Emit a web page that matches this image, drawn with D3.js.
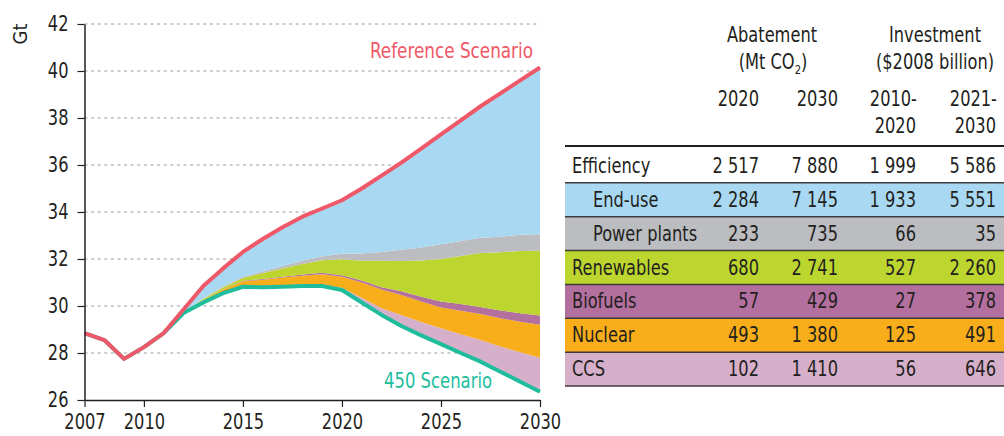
<!DOCTYPE html>
<html>
<head>
<meta charset="utf-8">
<script src="https://cdn.jsdelivr.net/npm/d3@7"></script>
<style>
  body { margin: 0; background: #fff; }
  svg { display: block; }
</style>
</head>
<body>
<div id="chart"></div>
<script>
// CO2 emissions, Reference vs 450 Scenario (Gt)
const years = [2007, 2008, 2009, 2010, 2011, 2012, 2013, 2014, 2015, 2016, 2017, 2018,
               2019, 2020, 2021, 2022, 2023, 2024, 2025, 2026, 2027, 2028, 2029, 2030]

const referenceScenario = [28.85, 28.55, 27.75, 28.25, 28.85, 29.85, 30.85, 31.6, 32.3, 32.85, 33.35, 33.8,
                           34.15, 34.5, 35.0, 35.55, 36.1, 36.7, 37.3, 37.9, 38.5, 39.05, 39.6, 40.15]
const scenario450 = [28.85, 28.55, 27.75, 28.25, 28.85, 29.7, 30.15, 30.55, 30.82, 30.8, 30.82, 30.85,
                     30.85, 30.68, 30.15, 29.62, 29.15, 28.75, 28.38, 28.0, 27.63, 27.2, 26.78, 26.35]

// abatement wedges (Gt), stacked upward from the 450 Scenario line
const ccs = [0, 0, 0, 0, 0, 0, 0.01, 0.02, 0.03, 0.04, 0.05, 0.06,
             0.08, 0.1, 0.2, 0.28, 0.47, 0.57, 0.67, 0.8, 0.92, 1.08, 1.25, 1.45]
const nuclear = [0, 0, 0, 0, 0, 0.02, 0.07, 0.13, 0.2, 0.28, 0.34, 0.38,
                 0.42, 0.47, 0.65, 0.8, 0.85, 0.87, 0.89, 1.0, 1.11, 1.2, 1.3, 1.4]
const biofuels = [0, 0, 0, 0, 0, 0, 0.01, 0.01, 0.02, 0.03, 0.04, 0.05,
                  0.06, 0.06, 0.08, 0.1, 0.16, 0.2, 0.25, 0.28, 0.3, 0.33, 0.36, 0.4]
const renewables = [0, 0, 0, 0, 0, 0.03, 0.06, 0.09, 0.12, 0.25, 0.35, 0.45,
                    0.54, 0.68, 0.85, 1.13, 1.28, 1.55, 1.81, 2.05, 2.3, 2.48, 2.65, 2.75]
const powerPlants = [0, 0, 0, 0, 0, 0.01, 0.02, 0.03, 0.05, 0.08, 0.1, 0.14,
                     0.17, 0.23, 0.3, 0.37, 0.48, 0.55, 0.63, 0.64, 0.64, 0.66, 0.69, 0.7]
const endUse = [0, 0, 0, 0, 0, 0.14, 0.53, 0.77, 1.06, 1.37, 1.65, 1.87,
                2.03, 2.28, 2.77, 3.25, 3.71, 4.21, 4.67, 5.13, 5.6, 6.1, 6.57, 7.1]

const yTicks = [26, 28, 30, 32, 34, 36, 38, 40, 42]
const xTicks = [2007, 2010, 2015, 2020, 2025, 2030]

// table
const rowLabels = ["Efficiency", "End-use", "Power plants", "Renewables", "Biofuels", "Nuclear", "CCS"]
const abatement2020 = [2517, 2284, 233, 680, 57, 493, 102]
const abatement2030 = [7880, 7145, 735, 2741, 429, 1380, 1410]
const investment2010_2020 = [1999, 1933, 66, 527, 27, 125, 56]
const investment2021_2030 = [5586, 5551, 35, 2260, 378, 491, 646]
const subRows = ["End-use", "Power plants"]

const colours = {
    endUse: "#a9d9f2",
    powerPlants: "#bcbdc0",
    renewables: "#bdd62f",
    biofuels: "#b3709f",
    nuclear: "#f8ad1a",
    ccs: "#d6afcb",
    reference: "#ef5868",
    s450: "#20bd9d"
}
const rowColours = {
    "Efficiency": "#ffffff",
    "End-use": colours.endUse,
    "Power plants": colours.powerPlants,
    "Renewables": colours.renewables,
    "Biofuels": colours.biofuels,
    "Nuclear": colours.nuclear,
    "CCS": colours.ccs
}

const FONT = '"DejaVu Sans Condensed", "Liberation Sans Narrow", sans-serif'
const ink = "#231f20"
// squeeze text horizontally, the original face is a narrow one
const SX = 0.86

const svg = d3.select("#chart").append("svg")
    .attr("width", 1004)
    .attr("height", 436)
    .attr("font-family", FONT)
    .style("font-stretch", "condensed")

// place a text at (px, py) with horizontal squeeze
function put(sel, px, py, sx = SX) {
    return sel.attr("x", 0).attr("y", 0)
        .attr("transform", `translate(${px},${py}) scale(${sx},1)`)
}

const x = d3.scaleLinear()
    .domain([2007, 2030])
    .range([84.5, 540])

const y = d3.scaleLinear()
    .domain([26, 42])
    .range([400, 24])

// dashed gridlines
svg.append("g")
    .selectAll("line")
    .data(yTicks.filter(d => d > 26))
    .join("line")
    .attr("x1", x(2007))
    .attr("x2", x(2030))
    .attr("y1", d => y(d))
    .attr("y2", d => y(d))
    .attr("stroke", "#9a9a9a")
    .attr("stroke-width", 1)
    .attr("stroke-dasharray", "3,3.6")

// stacked wedges on top of the 450 line
const table = years.map((yr, i) => ({
    year: yr,
    base: scenario450[i],
    ccs: ccs[i],
    nuclear: nuclear[i],
    biofuels: biofuels[i],
    renewables: renewables[i],
    powerPlants: powerPlants[i],
    endUse: endUse[i]
}))

const keys = ["base", "ccs", "nuclear", "biofuels", "renewables", "powerPlants", "endUse"]
const series = d3.stack().keys(keys)(table)

const area = d3.area()
    .x(d => x(d.data.year))
    .y0(d => y(d[0]))
    .y1(d => y(d[1]))

svg.append("g")
    .attr("class", "wedges")
    .selectAll("path")
    .data(series.filter(s => s.key !== "base"))
    .join("path")
    .attr("d", area)
    .attr("fill", s => colours[s.key])

const line = d3.line()
    .x((d, i) => x(years[i]))
    .y(d => y(d))

svg.append("path")
    .datum(scenario450)
    .attr("d", line)
    .attr("fill", "none")
    .attr("stroke", colours.s450)
    .attr("stroke-width", 4)
    .attr("stroke-linejoin", "round")

svg.append("path")
    .datum(referenceScenario)
    .attr("d", line)
    .attr("fill", "none")
    .attr("stroke", colours.reference)
    .attr("stroke-width", 4)
    .attr("stroke-linejoin", "round")

// axes
svg.append("g")
    .attr("transform", `translate(${x(2007)},0)`)
    .call(d3.axisLeft(y).tickValues(yTicks).tickSize(7).tickSizeOuter(0).tickPadding(9))
    .call(g => g.select(".domain").attr("stroke", ink).attr("stroke-width", 1.5))
    .call(g => g.selectAll(".tick line").attr("stroke", ink).attr("stroke-width", 1.2))
    .call(g => g.selectAll(".tick text")
        .attr("fill", ink)
        .attr("font-family", FONT)
        .attr("font-size", 21)
        .attr("x", -16 / SX)
        .attr("transform", `scale(${SX},1)`))

svg.append("g")
    .attr("transform", `translate(0,${y(26)})`)
    .call(d3.axisBottom(x).tickValues(xTicks).tickFormat(d3.format("d")).tickSize(7).tickSizeOuter(0).tickPadding(7))
    .call(g => g.select(".domain").attr("stroke", ink).attr("stroke-width", 1.5))
    .call(g => g.selectAll(".tick line").attr("stroke", ink).attr("stroke-width", 1.2))
    .call(g => g.selectAll(".tick text")
        .attr("fill", ink)
        .attr("font-family", FONT)
        .attr("font-size", 21)
        .attr("transform", `scale(${SX},1)`))

svg.append("text")
    .attr("transform", "translate(27,34) rotate(-90)")
    .attr("text-anchor", "middle")
    .attr("font-size", 20)
    .attr("fill", ink)
    .text("Gt")

put(svg.append("text"), 533, 58, 0.85)
    .attr("text-anchor", "end")
    .attr("font-size", 22)
    .attr("fill", colours.reference)
    .text("Reference Scenario")

put(svg.append("text"), 492, 388, 0.83)
    .attr("text-anchor", "end")
    .attr("font-size", 22)
    .attr("fill", colours.s450)
    .text("450 Scenario")

// ---- table on the right ----
const tbl = svg.append("g")
    .attr("class", "table")
    .attr("font-size", 21)
    .attr("fill", ink)

const colRight = [759, 838, 916, 996]
const fmt = d3.formatLocale({ decimal: ".", thousands: " ", grouping: [3], currency: ["", ""] }).format(",d")

const rowY = d3.scaleBand()
    .domain(rowLabels)
    .range([149, 386])

// row backgrounds
tbl.selectAll("rect.row")
    .data(rowLabels)
    .join("rect")
    .attr("class", "row")
    .attr("x", 565)
    .attr("y", d => rowY(d))
    .attr("width", 1004 - 565)
    .attr("height", rowY.bandwidth())
    .attr("fill", d => rowColours[d])

// row separators
tbl.selectAll("line.sep")
    .data(rowLabels.slice(1).map(d => rowY(d)).concat([rowY.range()[1]]))
    .join("line")
    .attr("class", "sep")
    .attr("x1", 565)
    .attr("x2", 1004)
    .attr("y1", d => d)
    .attr("y2", d => d)
    .attr("stroke", "#3c3a3b")
    .attr("stroke-width", 1.5)

tbl.append("line")
    .attr("x1", 565).attr("x2", 1004)
    .attr("y1", 146).attr("y2", 146)
    .attr("stroke", ink)
    .attr("stroke-width", 2)

const rows = tbl.selectAll("g.r")
    .data(rowLabels.map((label, i) => ({
        label: label,
        values: [abatement2020[i], abatement2030[i], investment2010_2020[i], investment2021_2030[i]]
    })))
    .join("g")
    .attr("class", "r")
    .attr("transform", d => `translate(0,${rowY(d.label) + 24})`)

rows.append("text")
    .attr("transform", d => `translate(${subRows.includes(d.label) ? 593 : 572},0) scale(${SX},1)`)
    .text(d => d.label)

rows.selectAll("text.v")
    .data(d => d.values)
    .join("text")
    .attr("class", "v")
    .attr("transform", (d, i) => `translate(${colRight[i]},0) scale(${SX},1)`)
    .attr("text-anchor", "end")
    .text(d => fmt(d))

// headers
const head = tbl.append("g")

put(head.append("text"), 772, 42).attr("text-anchor", "middle").text("Abatement")
const co2 = put(head.append("text"), 773, 69).attr("text-anchor", "middle")
co2.append("tspan").text("(Mt CO")
co2.append("tspan").attr("dy", 5).attr("font-size", 13).text("2")
co2.append("tspan").attr("dy", -5).text(")")

put(head.append("text"), 935, 42).attr("text-anchor", "middle").text("Investment")
put(head.append("text"), 935, 69).attr("text-anchor", "middle").text("($2008 billion)")

const colHeads = [["2020"], ["2030"], ["2010-", "2020"], ["2021-", "2030"]]
colHeads.forEach((lines, i) => {
    lines.forEach((t, j) => {
        put(head.append("text"), colRight[i] + (t.endsWith("-") ? 1 : 0), 106 + j * 27)
            .attr("text-anchor", "end")
            .text(t)
    })
})
</script>
</body>
</html>
